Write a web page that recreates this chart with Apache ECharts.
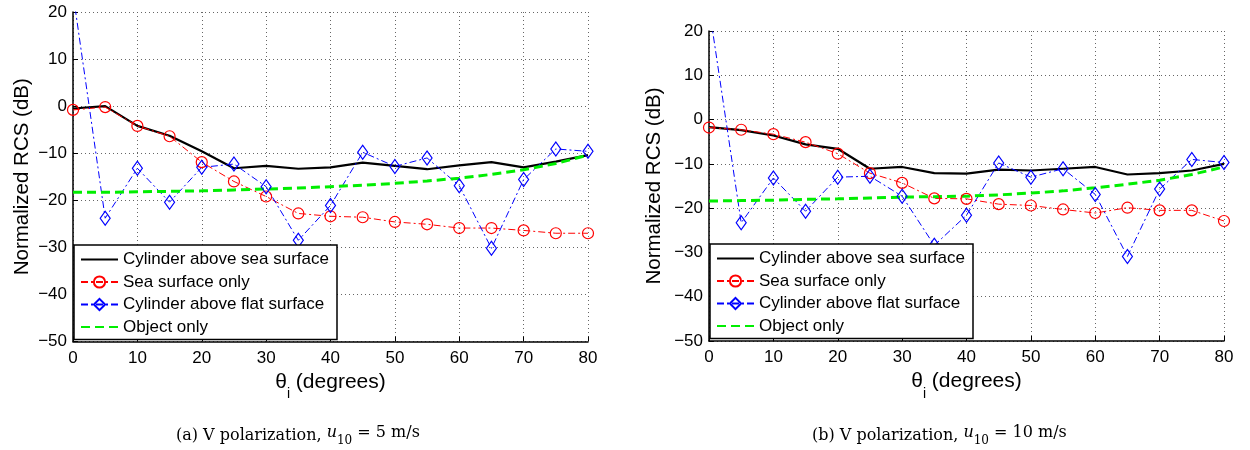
<!DOCTYPE html>
<html>
<head>
<meta charset="utf-8">
<script src="https://cdn.jsdelivr.net/npm/echarts@6/dist/echarts.min.js"></script>
<style>html,body{margin:0;padding:0;background:#fff;}#c{width:1250px;height:450px;}</style>
</head>
<body>
<div id="c"></div>
<script>
// ---- data ----
const thetas = [0, 5, 10, 15, 20, 25, 30, 35, 40, 45, 50, 55, 60, 65, 70, 75, 80];
const seriesNames = ['Cylinder above sea surface', 'Sea surface only', 'Cylinder above flat surface', 'Object only'];
// (a) V polarization, u10 = 5 m/s
const aCylSea  = [-0.5, 0.0, -4.2, -6.3, -9.6, -13.2, -12.7, -13.3, -13.0, -12.0, -12.7, -13.4, -12.6, -11.9, -13.0, -11.8, -10.4];
const aSeaOnly = [-0.8, -0.2, -4.2, -6.4, -11.9, -16.0, -19.2, -22.8, -23.4, -23.6, -24.6, -25.1, -25.9, -25.9, -26.4, -27.0, -27.0];
const aCylFlat = [24.0, -23.8, -13.2, -20.4, -13.0, -12.3, -17.1, -28.5, -21.1, -9.8, -12.8, -11.0, -16.9, -30.2, -15.6, -9.1, -9.6];
const aObject  = [-18.3, -18.3, -18.2, -18.1, -18.0, -17.8, -17.6, -17.4, -17.1, -16.8, -16.4, -15.9, -15.3, -14.5, -13.5, -12.2, -10.4];
// (b) V polarization, u10 = 10 m/s
const bCylSea  = [-1.7, -2.4, -3.6, -5.6, -6.6, -11.1, -10.7, -12.1, -12.2, -11.3, -11.5, -11.1, -10.7, -12.4, -12.1, -11.5, -10.0];
const bSeaOnly = [-1.8, -2.3, -3.3, -5.1, -7.7, -12.1, -14.3, -17.8, -17.9, -19.1, -19.4, -20.3, -21.1, -19.9, -20.5, -20.5, -22.9];
const bCylFlat = [25.5, -23.3, -13.2, -20.7, -13.0, -12.8, -17.3, -28.4, -21.6, -9.8, -13.0, -11.1, -16.9, -30.9, -15.7, -9.0, -9.7];
const bObject  = [-18.4, -18.3, -18.2, -18.0, -17.9, -17.7, -17.5, -17.4, -17.3, -17.0, -16.6, -16.1, -15.4, -14.6, -13.7, -12.4, -10.7];
const xTicks = { min: 0, max: 80, interval: 10 };
const yTicks = { min: -50, max: 20, interval: 10 };
const captions = ['(a) V polarization, ', '(b) V polarization, '];
const captionSpeeds = ['5 m/s', '10 m/s'];

// ---- styling ----
const FONT = "'Liberation Sans', Arial, Helvetica, sans-serif";
const minus = v => String(v).replace('-', '\u2212');
const pairs = (ys) => thetas.map((t, i) => [t, ys[i]]);

function xAxis(idx) {
  return {
    type: 'value', gridIndex: idx, min: xTicks.min, max: xTicks.max, interval: xTicks.interval,
    name: '{t|θ}{s|i}{t| (degrees)}', nameLocation: 'middle', nameGap: 27,
    nameTextStyle: { rich: {
      t: { fontSize: 21, fontFamily: FONT, color: '#000', verticalAlign: 'top', lineHeight: 30 },
      s: { fontSize: 14, fontFamily: FONT, color: '#000', verticalAlign: 'bottom', lineHeight: 30 }
    } },
    axisLine: { show: true, onZero: false, lineStyle: { color: '#000', width: 1.5 } },
    axisTick: { show: true, inside: true, length: 5, lineStyle: { color: '#000' } },
    axisLabel: { fontSize: 17, fontFamily: FONT, color: '#000', margin: 8, formatter: minus },
    splitLine: { show: true, lineStyle: { color: '#666', type: [1, 3], width: 1 } }
  };
}
function yAxis(idx, gap) {
  return {
    type: 'value', gridIndex: idx, min: yTicks.min, max: yTicks.max, interval: yTicks.interval,
    name: 'Normalized RCS (dB)', nameLocation: 'middle', nameGap: gap,
    nameTextStyle: { fontSize: 20.5, fontFamily: FONT, color: '#000' },
    axisLine: { show: true, onZero: false, lineStyle: { color: '#000', width: 1.5 } },
    axisTick: { show: true, inside: true, length: 5, lineStyle: { color: '#000' } },
    axisLabel: { fontSize: 17, fontFamily: FONT, color: '#000', margin: 6, formatter: minus },
    splitLine: { show: true, lineStyle: { color: '#666', type: [1, 3], width: 1 } }
  };
}
const dashDot = [7, 3, 2, 3];
function seriesFor(idx, cyl, sea, flat, obj) {
  return [
    { name: seriesNames[0], type: 'line', xAxisIndex: idx, yAxisIndex: idx, data: pairs(cyl),
      showSymbol: false, symbol: 'none', lineStyle: { color: '#000', width: 2.2 }, itemStyle: { color: '#000' } },
    { name: seriesNames[1], type: 'line', xAxisIndex: idx, yAxisIndex: idx, data: pairs(sea),
      symbol: 'circle', symbolSize: 11, lineStyle: { color: '#ff0000', width: 1, type: dashDot },
      itemStyle: { color: 'rgba(255,255,255,0)', borderColor: '#ff0000', borderWidth: 1.2 } },
    { name: seriesNames[2], type: 'line', xAxisIndex: idx, yAxisIndex: idx, data: pairs(flat),
      symbol: 'diamond', symbolSize: [10, 14], lineStyle: { color: '#0000ff', width: 1, type: dashDot },
      itemStyle: { color: 'rgba(255,255,255,0)', borderColor: '#0000ff', borderWidth: 1.2 } },
    { name: seriesNames[3], type: 'line', xAxisIndex: idx, yAxisIndex: idx, data: pairs(obj),
      showSymbol: false, symbol: 'none', lineStyle: { color: '#00ee00', width: 3, type: [9, 5] }, itemStyle: { color: '#00ee00' } }
  ].map(s => Object.assign(s, { animation: false, silent: true, clip: true, z: 2 }));
}
const hiddenSymbol = { opacity: 0 };
function legend(left, top) {
  return {
    orient: 'vertical', left: left, top: top,
    data: [
      { name: seriesNames[0], itemStyle: hiddenSymbol },
      { name: seriesNames[1] },
      { name: seriesNames[2] },
      { name: seriesNames[3], itemStyle: hiddenSymbol }
    ],
    itemWidth: 37, itemHeight: 14, itemGap: 5.5, padding: [6, 8, 4, 6],
    borderColor: '#000', borderWidth: 1.5, backgroundColor: '#fff',
    textStyle: { fontSize: 17, fontFamily: FONT, color: '#000' }, selectedMode: false, z: 10
  };
}
function caption(i, cx) {
  return {
    type: 'text', left: cx, top: 425,
    style: {
      text: captions[i] + '{u|u}{s|10}{n| = ' + captionSpeeds[i] + '}',
      font: "16px 'DejaVu Serif', serif", fill: '#000',
      rich: {
        u: { font: "italic 16px 'DejaVu Serif', serif", fill: '#000', verticalAlign: 'top', lineHeight: 22 },
        s: { font: "12px 'DejaVu Serif', serif", fill: '#000', verticalAlign: 'bottom', lineHeight: 22 },
        n: { font: "16px 'DejaVu Serif', serif", fill: '#000', verticalAlign: 'top', lineHeight: 22 }
      }
    }
  };
}
const chart = echarts.init(document.getElementById('c'), null, { renderer: 'canvas' });
chart.setOption({
  animation: false,
  backgroundColor: '#fff',
  grid: [
    { left: 73, top: 12, width: 515, height: 329.5 },
    { left: 709, top: 31, width: 515, height: 310 }
  ],
  xAxis: [xAxis(0), xAxis(1)],
  yAxis: [yAxis(0, 40), yAxis(1, 44)],
  legend: [legend(74, 245), legend(710, 244)],
  series: [].concat(seriesFor(0, aCylSea, aSeaOnly, aCylFlat, aObject), seriesFor(1, bCylSea, bSeaOnly, bCylFlat, bObject)),
  graphic: [caption(0, 176), caption(1, 812)]
});
</script>
</body>
</html>
